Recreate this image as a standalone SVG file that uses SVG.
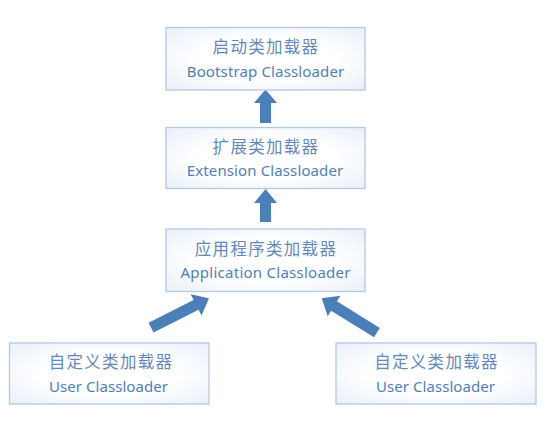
<svg xmlns="http://www.w3.org/2000/svg" xmlns:xlink="http://www.w3.org/1999/xlink" width="550" height="423" viewBox="0 0 550 423">
<style>
.box{fill:url(#glow);stroke:#b3c8e3;stroke-width:1.3}
.zh{font-family:"Noto Sans CJK SC","Noto Sans",sans-serif;font-size:16.5px;fill:#6389bb;text-anchor:middle;letter-spacing:1.3px}
.en{font-family:"Noto Sans","Open Sans",sans-serif;font-size:15px;fill:#4f7fba;text-anchor:middle}
.arrow{fill:#4a7fb9}
</style>
<defs>
<radialGradient id="glow" cx="50%" cy="50%" r="75%">
<stop offset="0.45" stop-color="#ffffff"/>
<stop offset="1" stop-color="#e6eef8"/>
</radialGradient>
<path id="diag" d="M0,0 L-14.5,-12 L-14.5,-5.5 L-65,-5.5 L-65,5.5 L-14.5,5.5 L-14.5,12 Z"/>
</defs>
<rect width="550" height="423" fill="#ffffff"/>
<g id="connectors" class="arrow">
<path d="M265.5,89.5 L277,103 L271,103 L271,123 L260,123 L260,103 L254,103 Z"/>
<path d="M265.5,189 L277,203 L271,203 L271,222 L260,222 L260,203 L254,203 Z"/>
<use xlink:href="#diag" transform="translate(209,298.3) rotate(-26.9)"/>
<use xlink:href="#diag" transform="translate(321.7,298.3) rotate(211.9)"/>
</g>
<g id="bootstrap">
<rect class="box" x="166" y="27.5" width="199" height="62.5"/>
<text class="zh" x="266" y="53">启动类加载器</text>
<text class="en" x="265.5" y="76.5" textLength="157.5">Bootstrap Classloader</text>
</g>
<g id="extension">
<rect class="box" x="166" y="127.5" width="199" height="61"/>
<text class="zh" x="266" y="153">扩展类加载器</text>
<text class="en" x="265" y="176" textLength="156.5">Extension Classloader</text>
</g>
<g id="application">
<rect class="box" x="166" y="229" width="199" height="62.5"/>
<text class="zh" x="266" y="255">应用程序类加载器</text>
<text class="en" x="265.5" y="277.7" textLength="170">Application Classloader</text>
</g>
<g id="user1">
<rect class="box" x="9.5" y="343" width="199.5" height="61"/>
<text class="zh" x="111" y="368">自定义类加载器</text>
<text class="en" x="108.5" y="391.7" textLength="119">User Classloader</text>
</g>
<g id="user2">
<rect class="box" x="336" y="343" width="200" height="61"/>
<text class="zh" x="436.5" y="368">自定义类加载器</text>
<text class="en" x="435.5" y="391.7" textLength="119">User Classloader</text>
</g>
</svg>
